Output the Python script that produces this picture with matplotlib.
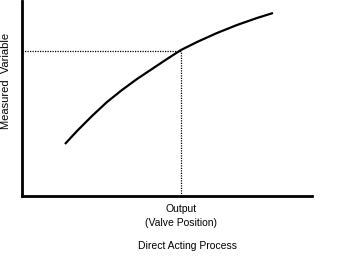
import matplotlib
matplotlib.use("Agg")
import matplotlib.pyplot as plt
import numpy as np

# curve (x = output, y = measured variable, pixel-ish units)
curve_x = [43, 55, 70, 85, 100, 115, 130, 145, 159, 175, 195, 215, 235, 251]
curve_y = [52, 65, 80, 94, 106, 117, 127, 137, 146, 154, 163, 171, 178, 183]
op_x = 159
op_y = 145

plt.rcParams['font.family'] = ['Liberation Sans', 'DejaVu Sans']

fig = plt.figure(figsize=(3.59, 2.57), dpi=100)
ax = fig.add_axes([22 / 359, 61 / 257, 290 / 359, 195 / 257])
ax.set_xlim(0, 290)
ax.set_ylim(0, 195)

ax.plot(curve_x, curve_y, color='black', lw=1.6, solid_capstyle='butt', solid_joinstyle='round')
ax.plot([0, op_x], [op_y, op_y], color='black', lw=0.9, ls=(0, (1, 1)))
ax.plot([op_x, op_x], [0, op_y], color='black', lw=0.9, ls=(0, (1, 1)))

for s in ['top', 'right']:
    ax.spines[s].set_visible(False)
for s in ['left', 'bottom']:
    ax.spines[s].set_linewidth(2)
ax.set_xticks([])
ax.set_yticks([])

fig.text(181 / 359, 1 - 216 / 257, 'Output\n(Valve Position)', ha='center', va='center',
         fontsize=7.5, linespacing=1.4)
fig.text(187 / 359, 1 - 246 / 257, 'Direct Acting Process', ha='center', va='center',
         fontsize=7.5)
fig.text(6 / 359, 1 - 81 / 257, 'Measured  Variable', ha='center', va='center',
         rotation=90, fontsize=8)

fig.savefig('out.png', dpi=100)
